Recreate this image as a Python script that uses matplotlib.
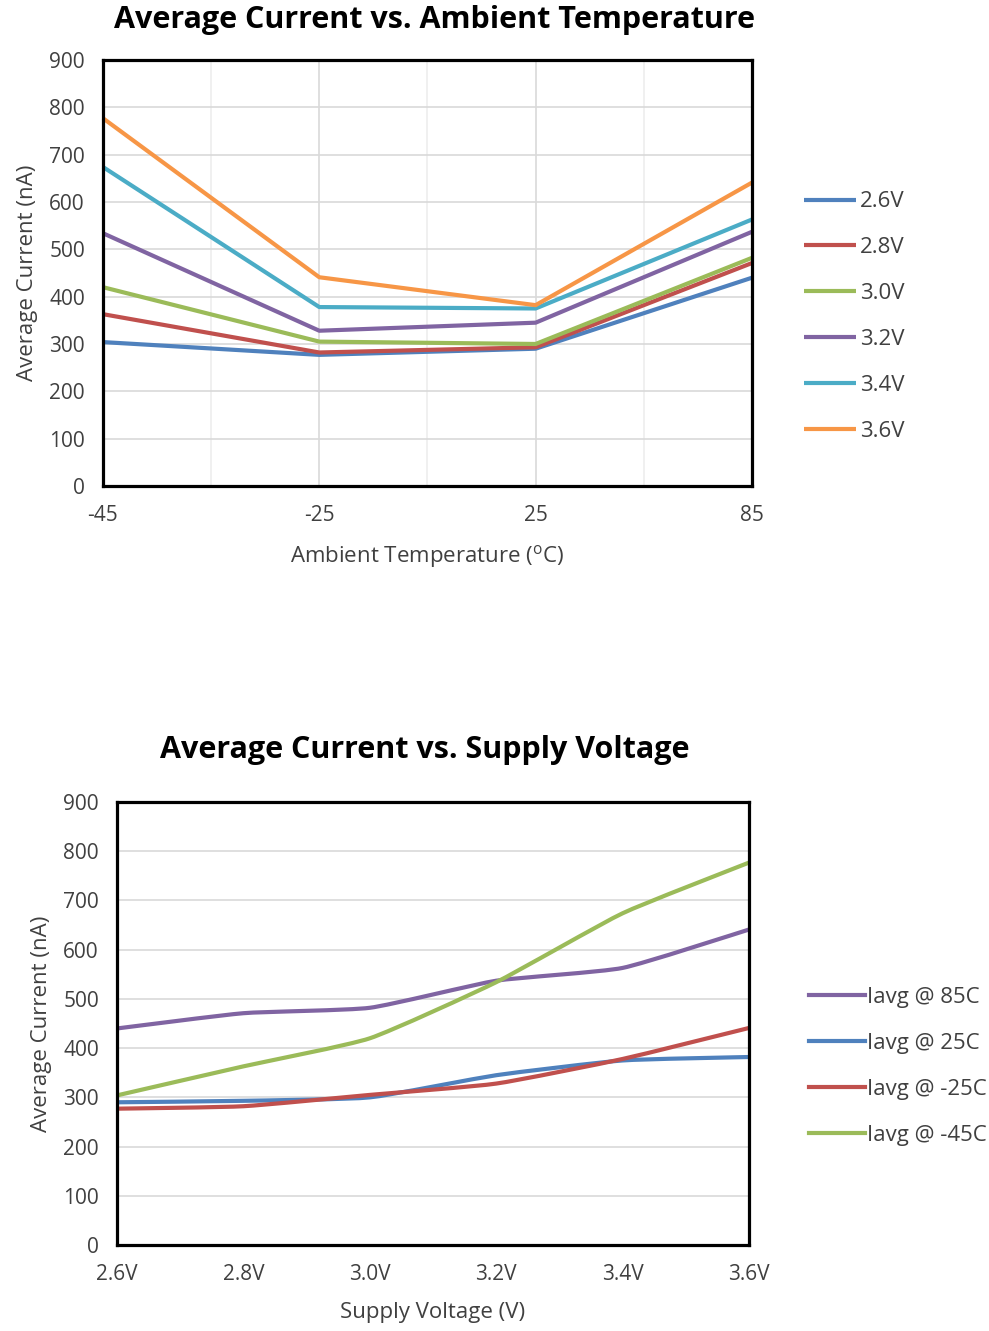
import matplotlib
matplotlib.use('Agg')
import matplotlib.pyplot as plt
from matplotlib.path import Path
from matplotlib.patches import PathPatch
from matplotlib.lines import Line2D
import numpy as np

plt.rcParams['font.family'] = ['Open Sans', 'DejaVu Sans']
plt.rcParams['mathtext.fontset'] = 'custom'
plt.rcParams['mathtext.rm'] = 'Open Sans'

# data (nA)
temps = ['-45', '-25', '25', '85']
volts = ['2.6V', '2.8V', '3.0V', '3.2V', '3.4V', '3.6V']
i_26 = [304, 277, 290, 440]
i_28 = [363, 282, 293, 471]
i_30 = [420, 305, 300, 482]
i_32 = [534, 328, 345, 537]
i_34 = [674, 378, 375, 563]
i_36 = [777, 441, 382, 641]

iavg_85 = [440, 471, 482, 537, 563, 641]
iavg_25 = [290, 293, 300, 345, 375, 382]
iavg_m25 = [277, 282, 305, 328, 378, 441]
iavg_m45 = [304, 363, 420, 534, 674, 777]

blue, red, green = '#4F81BD', '#C0504D', '#9BBB59'
purple, cyan, orange = '#8064A2', '#4BACC6', '#F79646'
txt = '#404040'

fig = plt.figure(figsize=(9.89, 13.31), dpi=100)

def style_axes(ax):
    ax.set_ylim(0, 900)
    ax.set_yticks(range(0, 901, 100))
    ax.grid(axis='y', color='#D9D9D9', lw=1.2)
    ax.set_axisbelow(True)
    for s in ax.spines.values():
        s.set_linewidth(2.3)
        s.set_color('black')
    ax.tick_params(length=0, labelsize=15, colors=txt)
    ax.tick_params(axis='y', pad=13)
    ax.tick_params(axis='x', pad=14)

# ---- top: current vs temperature
ax1 = fig.add_axes([0.1041, 0.6349, 0.6562, 0.3200])
style_axes(ax1)
xt = np.arange(len(temps))
top_series = [('2.6V', i_26, blue), ('2.8V', i_28, red), ('3.0V', i_30, green),
              ('3.2V', i_32, purple), ('3.4V', i_34, cyan), ('3.6V', i_36, orange)]
for lab, vals, c in top_series:
    ax1.plot(xt, vals, color=c, lw=3, label=lab, solid_capstyle='butt', clip_on=False)
ax1.set_xlim(0, len(temps) - 1)
ax1.set_xticks(xt)
ax1.set_xticklabels(temps)
ax1.set_xticks(np.arange(0.5, len(temps) - 1, 1.0), minor=True)
ax1.tick_params(which='minor', length=0)
ax1.grid(axis='x', which='major', color='#D9D9D9', lw=1.2)
ax1.grid(axis='x', which='minor', color='#EDEDED', lw=1.2)
ax1.set_xlabel(r'Ambient Temperature ($^{\mathrm{o}}$C)', fontsize=16, color=txt, labelpad=12)
ax1.set_ylabel('Average Current (nA)', fontsize=16, color=txt, labelpad=8)
fig.text(0.439, 0.985, 'Average Current vs. Ambient Temperature', ha='center', va='center',
         fontsize=22, fontweight='bold')
ax1.legend(loc='center left', bbox_to_anchor=(0.813, 0.7622), bbox_transform=fig.transFigure,
           frameon=False, fontsize=16, handlelength=2.35, handletextpad=0.15,
           labelspacing=1.12, borderpad=0, borderaxespad=0, labelcolor=txt)

# ---- bottom: current vs supply voltage (lightly smoothed lines like the original)
ax2 = fig.add_axes([0.1183, 0.0646, 0.6390, 0.3328])
style_axes(ax2)
xv = np.arange(len(volts))
bot_series = [('Iavg @ 85C', iavg_85, purple), ('Iavg @ 25C', iavg_25, blue),
              ('Iavg @ -25C', iavg_m25, red), ('Iavg @ -45C', iavg_m45, green)]

def smooth_path(x, y, k=12.0):
    pts = np.column_stack([x, y]).astype(float)
    verts = [pts[0]]
    codes = [Path.MOVETO]
    n = len(pts)
    for i in range(n - 1):
        p0 = pts[max(i - 1, 0)]
        p1 = pts[i]
        p2 = pts[i + 1]
        p3 = pts[min(i + 2, n - 1)]
        verts += [p1 + (p2 - p0) / k, p2 - (p3 - p1) / k, p2]
        codes += [Path.CURVE4] * 3
    return Path(verts, codes)

handles = []
for lab, vals, c in bot_series:
    ax2.add_patch(PathPatch(smooth_path(xv, vals), fill=False, edgecolor=c, lw=3,
                            capstyle='butt', clip_on=False))
    handles.append(Line2D([], [], color=c, lw=3, label=lab))
ax2.set_xlim(0, len(volts) - 1)
ax2.set_xticks(xv)
ax2.set_xticklabels(volts)
ax2.set_xlabel('Supply Voltage (V)', fontsize=16, color=txt, labelpad=12)
ax2.set_ylabel('Average Current (nA)', fontsize=16, color=txt, labelpad=8)
fig.text(0.429, 0.4365, 'Average Current vs. Supply Voltage', ha='center', va='center',
         fontsize=22, fontweight='bold')
ax2.legend(handles=handles, loc='center left', bbox_to_anchor=(0.818, 0.1987),
           bbox_transform=fig.transFigure, frameon=False, fontsize=16, handlelength=2.5,
           handletextpad=0.1, labelspacing=1.12, borderpad=0, borderaxespad=0,
           labelcolor=txt)

fig.savefig('out.png', dpi=100, facecolor='white')
